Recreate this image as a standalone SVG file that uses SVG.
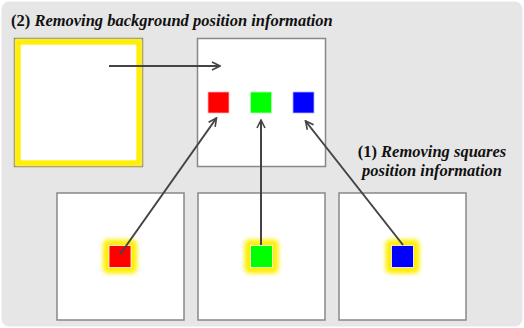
<svg xmlns="http://www.w3.org/2000/svg" width="524" height="328" viewBox="0 0 524 328">
<defs>
<style>
.box{fill:#fff;stroke:#888;stroke-width:1.5}
.conn{stroke:#444;stroke-width:2;fill:none;marker-end:url(#ah)}
</style>
<marker id="ah" viewBox="0 0 10 10" refX="9" refY="5" markerWidth="5" markerHeight="5" orient="auto" markerUnits="strokeWidth">
<path d="M1,1 L9,5 L1,9" fill="none" stroke="#444" stroke-width="1.6"/>
</marker>
<filter id="glow" x="-50%" y="-50%" width="200%" height="200%"><feGaussianBlur stdDeviation="1.2"/></filter>
<filter id="glow2" x="-50%" y="-50%" width="200%" height="200%"><feGaussianBlur stdDeviation="2"/></filter>
</defs>
<rect x="1.5" y="1.5" width="521" height="325" rx="8" fill="#e6e6e6"/>
<g font-family="Liberation Serif, serif" font-weight="bold" font-size="16.5" fill="#111">
<text x="11" y="26">(2) <tspan font-style="italic">Removing background position information</tspan></text>
<text x="432" y="157" text-anchor="middle">(1) <tspan font-style="italic">Removing squares</tspan></text>
<text x="432" y="176" text-anchor="middle" font-style="italic">position information</text>
</g>

<g id="bg-box">
<rect class="box" x="14.5" y="38.5" width="128" height="128"/>
<rect x="18" y="42" width="121" height="121" fill="none" stroke="#ffee00" stroke-width="6" filter="url(#glow)"/>
<rect x="21" y="45" width="115" height="115" fill="#fff"/>
</g>

<g id="result-box">
<rect class="box" x="197.5" y="38.5" width="128" height="128"/>
<rect x="208" y="92" width="21" height="21" fill="#ff0000" stroke="#ffb0b0" stroke-width="0.8"/>
<rect x="250.5" y="92" width="21" height="21" fill="#00ff00" stroke="#b0ffb0" stroke-width="0.8"/>
<rect x="293" y="92" width="21" height="21" fill="#0000ff" stroke="#b0b0ff" stroke-width="0.8"/>
</g>

<g id="red-box">
<rect class="box" x="57" y="193" width="127" height="127"/>
<rect x="103" y="239.5" width="34" height="34" rx="5" fill="#ffee00" filter="url(#glow2)"/>
<rect x="109" y="245.5" width="22" height="22" fill="#ff0000" stroke="#fff" stroke-width="0.8"/>
</g>
<g id="green-box">
<rect class="box" x="198" y="193" width="127" height="127"/>
<rect x="244.5" y="239.5" width="34" height="34" rx="5" fill="#ffee00" filter="url(#glow2)"/>
<rect x="250.5" y="245.5" width="22" height="22" fill="#00ff00" stroke="#fff" stroke-width="0.8"/>
</g>
<g id="blue-box">
<rect class="box" x="339" y="193" width="127" height="127"/>
<rect x="385.5" y="239.5" width="34" height="34" rx="5" fill="#ffee00" filter="url(#glow2)"/>
<rect x="391.5" y="245.5" width="22" height="22" fill="#0000ff" stroke="#fff" stroke-width="0.8"/>
</g>

<g id="connectors">
<line class="conn" x1="109" y1="66" x2="220" y2="66"/>
<line class="conn" x1="120" y1="254.5" x2="216.5" y2="118"/>
<line class="conn" x1="261" y1="245" x2="261" y2="120"/>
<line class="conn" x1="403" y1="245" x2="305.5" y2="121"/>
</g>
</svg>
